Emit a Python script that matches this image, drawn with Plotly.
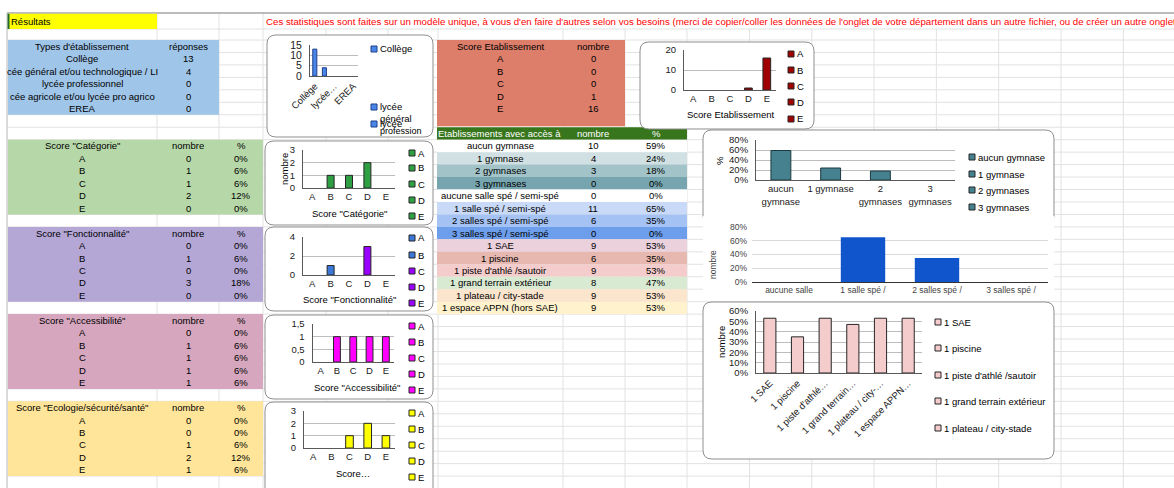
import plotly.graph_objects as go

W, H = 1174, 488
FONT = "Liberation Sans, Arial, sans-serif"
RH = 12.46  # spreadsheet row height in px

# ------------------------- data -------------------------
types_labels = ["Collège", "lycée général et/ou technologique / LI", "lycée professionnel",
                "lycée agricole et/ou lycée pro agrico", "EREA"]
types_table_text = ["Collège", "cée général et/ou technologique / LI", "lycée professionnel",
                    "cée agricole et/ou lycée pro agrico", "EREA"]
types_counts = [13, 4, 0, 0, 0]
types_ticktext = ["Collège", "lycée…", "EREA"]

scores = ["A", "B", "C", "D", "E"]
cat_counts = [0, 1, 1, 2, 0]
cat_pct = [0, 6, 6, 12, 0]
fonc_counts = [0, 1, 0, 3, 0]
fonc_pct = [0, 6, 0, 18, 0]
acc_counts = [0, 1, 1, 1, 1]
acc_pct = [0, 6, 6, 6, 6]
eco_counts = [0, 0, 1, 2, 1]
eco_pct = [0, 0, 6, 12, 6]
etab_counts = [0, 0, 0, 1, 16]

gym_labels = ["aucun gymnase", "1 gymnase", "2 gymnases", "3 gymnases"]
gym_ticktext = ["aucun<br>gymnase", "1 gymnase", "2<br>gymnases", "3<br>gymnases"]
gym_counts = [10, 4, 3, 0]
gym_pct = [59, 24, 18, 0]

salle_labels = ["aucune salle spé / semi-spé", "1 salle spé / semi-spé",
                "2 salles spé / semi-spé", "3 salles spé / semi-spé"]
salle_ticktext = ["aucune salle", "1 salle spé /", "2 salles spé /", "3 salles spé /"]
salle_counts = [0, 11, 6, 0]
salle_pct = [0, 65, 35, 0]

equip_labels = ["1 SAE", "1 piscine", "1 piste d'athlé /sautoir", "1 grand terrain extérieur",
                "1 plateau / city-stade", "1 espace APPN (hors SAE)"]
equip_ticktext = ["1 SAE", "1 piscine", "1 piste d'athlé…", "1 grand terrain…",
                  "1 plateau / city-…", "1 espace APPN…"]
equip_counts = [9, 6, 9, 8, 9, 9]
equip_pct = [53, 35, 53, 47, 53, 53]

access_row_colors = ["#ffffff", "#d0e0e3", "#a2c4c9", "#76a5af",
                     "#ffffff", "#c9daf8", "#a4c2f4", "#6d9eeb",
                     "#ead1dc", "#e6b8af", "#f4cccc", "#d9ead3", "#fce5cd", "#fff2cc"]

red_note = ("Ces statistiques sont faites sur un modèle unique, à vous d'en faire d'autres selon vos besoins "
            "(merci de copier/coller les données de l'onglet de votre département dans un autre fichier, "
            "ou de créer un autre onglet")

# ------------------------- helpers -------------------------
shapes, annotations, traces = [], [], []
layout_axes = {}


def X(x):
    return x / W


def Y(y):
    return 1 - y / H


def rect(x0, y0, x1, y1, fill, lc=None, lw=0):
    shapes.append(dict(type="rect", xref="paper", yref="paper", x0=X(x0), x1=X(x1), y0=Y(y1), y1=Y(y0),
                       fillcolor=fill, line=dict(color=lc or fill, width=lw), layer="below"))


def line(x0, y0, x1, y1, color, w=1):
    shapes.append(dict(type="line", xref="paper", yref="paper", x0=X(x0), x1=X(x1), y0=Y(y0), y1=Y(y1),
                       line=dict(color=color, width=w), layer="below"))


def rrect(x0, y0, x1, y1, r=9, border="#8f8f8f", fill="white"):
    def p(x, y):
        return f"{X(x):.6f},{Y(y):.6f}"
    path = (f"M {p(x0 + r, y0)} L {p(x1 - r, y0)} Q {p(x1, y0)} {p(x1, y0 + r)} "
            f"L {p(x1, y1 - r)} Q {p(x1, y1)} {p(x1 - r, y1)} L {p(x0 + r, y1)} "
            f"Q {p(x0, y1)} {p(x0, y1 - r)} L {p(x0, y0 + r)} Q {p(x0, y0)} {p(x0 + r, y0)} Z")
    shapes.append(dict(type="path", xref="paper", yref="paper", path=path, fillcolor=fill,
                       line=dict(color=border, width=1), layer="below"))


def txt(x, y, s, size=9.5, color="#000000", xa="center", angle=0):
    annotations.append(dict(x=X(x), y=Y(y), xref="paper", yref="paper", text=s, showarrow=False,
                            font=dict(family=FONT, size=size, color=color), xanchor=xa, yanchor="middle",
                            textangle=angle, borderpad=0))


def rc(k):
    return 40 + (k + 0.5) * RH


def legend(x, ys, labels, colors, size=9.5):
    for yy, lab, col in zip(ys, labels, colors):
        rect(x - 3, yy - 3, x + 3, yy + 3, col, "#262626", 1)
        txt(x + 5, yy, lab, size=size, xa="left")


def add_chart(i, x0, x1, y0, y1, xcfg, ycfg):
    xk = "xaxis" if i == 1 else f"xaxis{i}"
    yk = "yaxis" if i == 1 else f"yaxis{i}"
    layout_axes[xk] = dict(domain=[X(x0), X(x1)], anchor="y" if i == 1 else f"y{i}", automargin=False, **xcfg)
    layout_axes[yk] = dict(domain=[Y(y1), Y(y0)], anchor="x" if i == 1 else f"x{i}", automargin=False, **ycfg)
    return ("x" if i == 1 else f"x{i}"), ("y" if i == 1 else f"y{i}")


def xl_x(n, size=9.5):
    return dict(type="category", range=[-0.5, n - 0.5], showline=True, linecolor="#595959", linewidth=1,
                showgrid=False, ticks="", tickfont=dict(family=FONT, size=size, color="#1a1a1a"),
                fixedrange=True, zeroline=False)


def xl_y(top, dtick, size=9.5, **kw):
    d = dict(range=[0, top], dtick=dtick, showline=True, linecolor="#595959", linewidth=1,
             showgrid=True, gridcolor="#bdbdbd", gridwidth=1, ticks="", zeroline=False,
             tickfont=dict(family=FONT, size=size, color="#1a1a1a"), fixedrange=True,
             ticklabelstandoff=5)
    d.update(kw)
    return d


def bar(xa, ya, xs, ys, colors, width, edge="#262626", ew=1):
    widths = [ew if v else 0 for v in ys]
    traces.append(go.Bar(x=xs, y=ys, xaxis=xa, yaxis=ya, width=width,
                         marker=dict(color=colors, line=dict(color=edge, width=widths)),
                         showlegend=False, hoverinfo="skip"))


# ------------------------- spreadsheet grid -------------------------
GRID = "#e2e2e2"
col_x = [7, 157, 219, 263, 326, 388, 438, 563, 625, 687, 749.5, 811.8, 874, 936.4, 998.7, 1061, 1123.3]
row_y = [29, 40] + [40 + k * RH for k in range(1, 37)]
for yy in row_y:
    line(7, yy, W, yy, GRID)
for xx in col_x:
    line(xx, 29, xx, H, GRID)
for xx in [157, 219, 263]:
    line(xx, 13, xx, 29, GRID)
line(7, 13, W, 13, "#a6a6a6", 1.5)
line(7, 13, 7, H, "#c4c4c4", 1)

# coloured cell blocks
rect(8, 13.8, 157, 29, "#ffff00")
line(8.5, 13.8, 8.5, 29, "#1e6b2e", 2)
rect(8, 40, 219, 40 + 6 * RH, "#9fc5e8")
rect(8, 40 + 8 * RH, 263, 40 + 14 * RH, "#b6d7a8")
rect(8, 40 + 15 * RH, 263, 40 + 21 * RH, "#b4a7d6")
rect(8, 40 + 22 * RH, 263, 40 + 28 * RH, "#d5a6bd")
rect(8, 40 + 29 * RH, 263, 40 + 35 * RH, "#ffe599")
rect(437, 40, 625, 40 + 7 * RH - 1, "#dd7e6b")
rect(437, 40 + 7 * RH, 687, 40 + 8 * RH, "#38761d")
for k, col in enumerate(access_row_colors):
    rect(437, 40 + (8 + k) * RH, 687, 40 + (9 + k) * RH, col)

# ------------------------- table texts -------------------------
txt(10, 21, "Résultats", xa="left")
txt(265, 21, red_note, size=9.7, color="#ff0000", xa="left")

txt(82, rc(0), "Types d'établissement")
txt(188, rc(0), "réponses")
for j, (lab, v) in enumerate(zip(types_table_text, types_counts)):
    txt(82, rc(1 + j), lab)
    txt(188, rc(1 + j), str(v))


def score_table(r0, title, counts, pct):
    txt(82, rc(r0), title)
    txt(188, rc(r0), "nombre")
    txt(241, rc(r0), "%")
    for j, (s, c, p) in enumerate(zip(scores, counts, pct)):
        txt(82, rc(r0 + 1 + j), s)
        txt(188, rc(r0 + 1 + j), str(c))
        txt(241, rc(r0 + 1 + j), f"{p}%")


score_table(8, 'Score "Catégorie"', cat_counts, cat_pct)
score_table(15, 'Score "Fonctionnalité"', fonc_counts, fonc_pct)
score_table(22, 'Score "Accessibilité"', acc_counts, acc_pct)
score_table(29, 'Score "Ecologie/sécurité/santé"', eco_counts, eco_pct)

txt(500, rc(0), "Score Etablissement")
txt(593, rc(0), "nombre")
for j, (s, c) in enumerate(zip(scores, etab_counts)):
    txt(500, rc(1 + j), s)
    txt(593, rc(1 + j), str(c))

txt(499, rc(7), "Etablissements avec accès à", color="#ffffff")
txt(593, rc(7), "nombre", color="#ffffff")
txt(656, rc(7), "%", color="#ffffff")
acc_labels_all = gym_labels + salle_labels + equip_labels
acc_counts_all = gym_counts + salle_counts + equip_counts
acc_pct_all = gym_pct + salle_pct + equip_pct
for k, (lab, c, p) in enumerate(zip(acc_labels_all, acc_counts_all, acc_pct_all)):
    txt(500, rc(8 + k), lab)
    txt(593, rc(8 + k), str(c))
    txt(656, rc(8 + k), f"{p}%")

# ------------------------- chart frames -------------------------
rrect(267, 35, 433, 137)
rrect(265, 141, 433, 225)
rrect(265, 227, 433, 311)
rrect(265, 315, 433, 399)
rrect(265, 402, 433, 497)
rrect(640, 42, 814, 129)
rrect(703, 130, 1054, 224)
rect(703, 216, 1054, 301, "#ffffff")
rrect(703, 302, 1054, 459)

# ------------------------- charts -------------------------
# 1. types d'établissement
xa, ya = add_chart(1, 310, 358, 45, 76,
                   dict(xl_x(5, 9.5), tickangle=-45, tickvals=[types_labels[0], types_labels[2], types_labels[4]],
                        ticktext=types_ticktext),
                   xl_y(15, 5, 10.5))
bar(xa, ya, types_labels, types_counts, "#4a86e8", 0.42, "#1c3f8a")
rect(371, 46, 377, 52, "#4a86e8", "#1c3f8a", 1)
txt(379, 49, "Collège", xa="left")
rect(371, 104, 377, 110, "#4a86e8", "#1c3f8a", 1)
txt(379, 107, "lycée", xa="left")
txt(379, 119, "général", xa="left")
rect(371, 121, 377, 127, "#4a86e8", "#1c3f8a", 1)
txt(379, 124, "lycée", xa="left")
txt(379, 131, "profession", xa="left", size=9)

# 2. catégorie
xa, ya = add_chart(2, 303, 395, 150, 188, xl_x(5), xl_y(3, 1))
bar(xa, ya, scores, cat_counts, "#2ea043", 0.38)
txt(349, 213, 'Score "Catégorie"')
txt(284, 169, "nombre", angle=-90)
legend(412, [153, 168, 184, 200, 216], scores, ["#2ea043"] * 5)

# 3. fonctionnalité
fonc_colors = ["#3c78d8", "#3c78d8", "#9900ff", "#9900ff", "#9900ff"]
xa, ya = add_chart(3, 303, 395, 237, 275, xl_x(5), xl_y(4, 2))
bar(xa, ya, scores, fonc_counts, fonc_colors, 0.38)
txt(349, 299, 'Score "Fonctionnalité"')
legend(412, [238, 255, 271, 287, 303], scores, fonc_colors)

# 4. accessibilité
xa, ya = add_chart(4, 312.5, 394, 324, 362, xl_x(5),
                   xl_y(1.5, 0.5, tickvals=[0, 0.5, 1, 1.5], ticktext=["0", "0,5", "1", "1,5"]))
bar(xa, ya, scores, acc_counts, "#ff00ff", 0.42)
txt(357, 387, 'Score "Accessibilité"')
legend(412, [326, 342, 358, 374, 390], scores, ["#ff00ff"] * 5)

# 5. écologie
xa, ya = add_chart(5, 304, 395, 411, 448, xl_x(5), xl_y(3, 1))
bar(xa, ya, scores, eco_counts, "#ffff00", 0.42)
txt(353, 473, "Score…")
legend(412, [413, 429, 445, 461, 477], scores, ["#ffff00"] * 5)

# 6. score établissement
xa, ya = add_chart(6, 684, 776, 50, 90, xl_x(5), xl_y(20, 10))
bar(xa, ya, scores, etab_counts, "#a00000", 0.42)
txt(730, 115, "Score Etablissement")
legend(791, [54, 70, 86, 102, 119], scores, ["#a00000"] * 5)

# 7. gymnases
xa, ya = add_chart(7, 756, 955, 140, 180,
                   dict(xl_x(4), tickvals=gym_labels, ticktext=gym_ticktext),
                   xl_y(80, 20, ticksuffix="%"))
bar(xa, ya, gym_labels, gym_pct, "#45818e", 0.4, "#1d3a40")
txt(719, 161, "%", angle=-90)
legend(972, [157, 174, 190, 207], gym_labels, ["#45818e"] * 4)

# 8. salles spé (style Google Sheets)
xa, ya = add_chart(8, 752, 1048, 227, 282,
                   dict(type="category", range=[-0.5, 3.5], showline=True, linecolor="#333333", linewidth=1,
                        showgrid=False, ticks="", tickvals=salle_labels, ticktext=salle_ticktext,
                        tickfont=dict(family=FONT, size=8.5, color="#444444"), fixedrange=True),
                   dict(range=[0, 80], dtick=20, ticksuffix="%", showline=False, showgrid=True,
                        gridcolor="#d9d9d9", zeroline=False, ticks="", ticklabelstandoff=4,
                        tickfont=dict(family=FONT, size=8.5, color="#444444"), fixedrange=True))
bar(xa, ya, salle_labels, salle_pct, "#1155cc", 0.6, "#1155cc", 0)
txt(713, 265, "nombre", size=8.5, color="#444444", angle=-90)

# 9. équipements
xa, ya = add_chart(9, 756, 922, 311, 373,
                   dict(xl_x(6), tickangle=-45, tickvals=equip_labels, ticktext=equip_ticktext),
                   xl_y(60, 10, ticksuffix="%"))
bar(xa, ya, equip_labels, equip_pct, "#f4cccc", 0.44)
txt(721, 342, "nombre", angle=-90)
legend(938, [322, 348, 375, 401, 428], equip_labels[:5], ["#f4cccc"] * 5)

fig = go.Figure(data=traces)
fig.update_layout(width=W, height=H, margin=dict(l=0, r=0, t=0, b=0, pad=0, autoexpand=False),
                  paper_bgcolor="#ffffff",
                  plot_bgcolor="rgba(0,0,0,0)", showlegend=False, shapes=shapes, annotations=annotations,
                  font=dict(family=FONT, size=9.5, color="#1a1a1a"), bargap=0.5, **layout_axes)

post = """
document.body.style.margin='0';
document.body.style.padding='0';
document.body.style.overflow='hidden';
"""
fig.write_html("out.html", post_script=post, config={"displayModeBar": False, "staticPlot": True})
